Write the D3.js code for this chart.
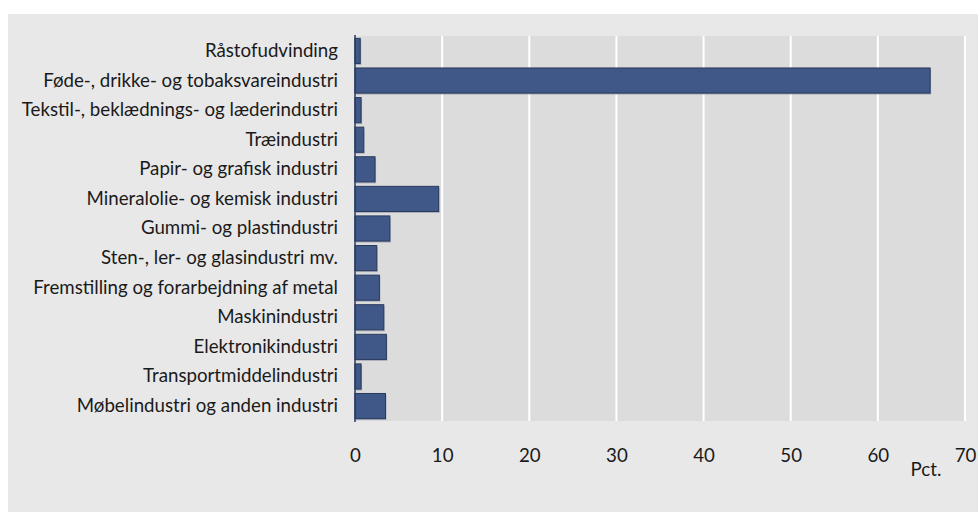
<!DOCTYPE html>
<html><head><meta charset="utf-8">
<script src="https://cdn.jsdelivr.net/npm/d3@7"></script>
<style>
html,body{margin:0;padding:0;background:#fff;}
svg{display:block;}
text{font-family:Lato,"Liberation Sans",sans-serif;fill:#1a1a1a;}
</style></head>
<body>
<svg id="chart" width="978" height="513"></svg>
<script>
const categories = [
  "Råstofudvinding",
  "Føde-, drikke- og tobaksvareindustri",
  "Tekstil-, beklædnings- og læderindustri",
  "Træindustri",
  "Papir- og grafisk industri",
  "Mineralolie- og kemisk industri",
  "Gummi- og plastindustri",
  "Sten-, ler- og glasindustri mv.",
  "Fremstilling og forarbejdning af metal",
  "Maskinindustri",
  "Elektronikindustri",
  "Transportmiddelindustri",
  "Møbelindustri og anden industri"
];
const values = [0.6, 66.0, 0.7, 1.0, 2.3, 9.6, 4.0, 2.5, 2.8, 3.3, 3.6, 0.7, 3.5];
const xTicks = [0, 10, 20, 30, 40, 50, 60, 70];
const unitLabel = "Pct.";

const svg = d3.select("#chart");
const W = 978, H = 513;
const FONT = "Lato,'Liberation Sans',sans-serif";
const FS = 18.7;
const m = {left: 355, right: 13, top: 36, bottom: 92};
const x = d3.scaleLinear().domain([0, 70]).range([m.left, W - m.right]);
const y = d3.scaleBand().domain(categories).range([m.top, H - m.bottom]).paddingInner(0.15).paddingOuter(0.08);

// outer panel
svg.append("rect").attr("x", 8).attr("y", 14).attr("width", W - 8).attr("height", 498).attr("fill", "#e8e8e8");
// plot area
svg.append("rect").attr("x", x(0)).attr("y", m.top).attr("width", x(70) - x(0)).attr("height", H - m.bottom - m.top).attr("fill", "#dcdcdc");

// grid lines
svg.append("g").selectAll("line").data(xTicks.filter(d => d > 0)).join("line")
  .attr("x1", d => x(d)).attr("x2", d => x(d))
  .attr("y1", m.top).attr("y2", H - m.bottom)
  .attr("stroke", "#ffffff").attr("stroke-width", 2);

// shadows
svg.append("g").selectAll("rect").data(values).join("rect")
  .attr("x", x(0) + 1).attr("y", (d, i) => y(categories[i]) + 1.5)
  .attr("width", d => x(d) - x(0)).attr("height", y.bandwidth())
  .attr("fill", "#8a93a6").attr("opacity", 0.6);
// bars
svg.append("g").selectAll("rect").data(values).join("rect")
  .attr("x", x(0)).attr("y", (d, i) => y(categories[i]))
  .attr("width", d => x(d) - x(0)).attr("height", y.bandwidth())
  .attr("fill", "#3f5887").attr("stroke", "#2a3a5c").attr("stroke-width", 1);

// y axis line
svg.append("line").attr("x1", x(0)).attr("x2", x(0)).attr("y1", m.top - 1).attr("y2", H - m.bottom + 1)
  .attr("stroke", "#2a3a5c").attr("stroke-width", 1.5);

// category labels
const yAxis = d3.axisLeft(y).tickSize(0).tickPadding(17);
const gy = svg.append("g").attr("transform", `translate(${x(0)},0)`).call(yAxis);
gy.select(".domain").remove();
gy.selectAll("text").attr("font-size", FS).style("font-family", FONT).attr("fill", "#1a1a1a");

// x tick labels
const xAxis = d3.axisBottom(x).tickValues(xTicks).tickSize(0).tickPadding(0);
const gx = svg.append("g").attr("transform", `translate(0,${H - m.bottom + 24})`).call(xAxis);
gx.select(".domain").remove();
gx.selectAll("text").attr("font-size", FS).attr("dy", null).attr("y", 17).style("font-family", FONT).attr("fill", "#1a1a1a");

svg.append("text").attr("x", 926).attr("y", 476).attr("text-anchor", "middle")
  .attr("font-size", FS).style("font-family", FONT).text(unitLabel);
</script>
</body></html>
